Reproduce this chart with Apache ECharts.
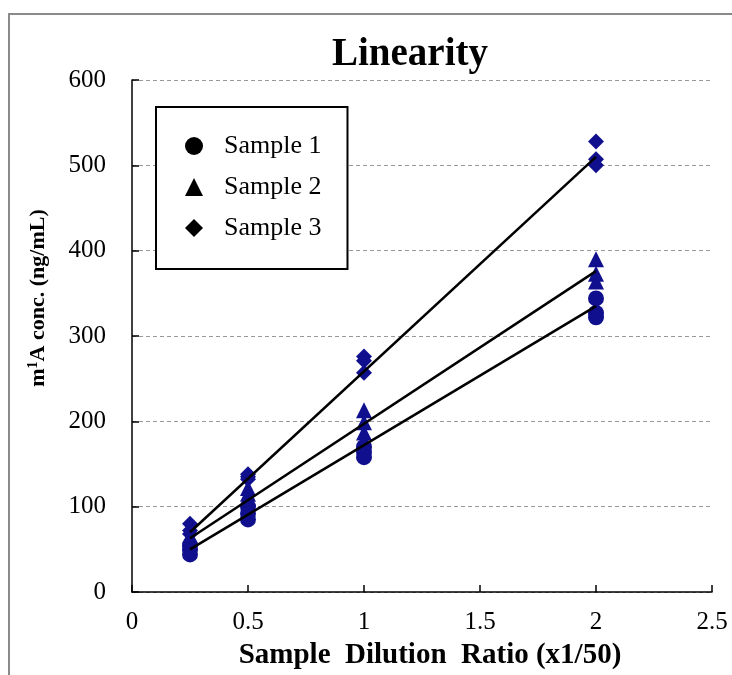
<!DOCTYPE html>
<html>
<head>
<meta charset="utf-8">
<script src="https://cdn.jsdelivr.net/npm/echarts@6/dist/echarts.min.js"></script>
<style>
html,body{margin:0;padding:0;background:#fff;}
#chart{width:732px;height:675px;}
</style>
</head>
<body>
<div id="chart"></div>
<script>
// x positions of each replicate (dilution ratio, x1/50)
var xReps = [0.25,0.25,0.25, 0.5,0.5,0.5, 1,1,1, 2,2,2];
var sample1 = [55,50,44, 100,92,85, 170,164,158, 344,327,322];
var sample2 = [66,62,58, 122,115,110, 213,199,187, 390,373,364];
var sample3 = [80,72,68, 138,135,132, 276,271,257, 528,507,500];
// trendline end points
var fitX = [0.25, 2];
var fit1 = [50, 335];
var fit2 = [63, 376];
var fit3 = [70, 510];
var names = ['Sample 1','Sample 2','Sample 3'];
var symbols = ['circle','triangle','diamond'];

function pairs(xs, ys){
	var out = [];
	for(var i=0;i<xs.length;i++){
		out.push([xs[i], ys[i]]);
	}
	return out;
}

var serif = '"Liberation Serif","DejaVu Serif",serif';
var dotColor = '#10108e';

var chart = echarts.init(document.getElementById('chart'));
var scatterData = [sample1, sample2, sample3];
var fitData = [fit1, fit2, fit3];
var series = [];
for(var i=0;i<3;i++){
	series.push({
		name: names[i],
		type: 'scatter',
		symbol: symbols[i],
		symbolSize: 16,
		itemStyle: {color: dotColor, opacity: 1},
		data: pairs(xReps, scatterData[i]),
		z: 2
	});
}
for(var j=0;j<3;j++){
	series.push({
		name: 'fit' + (j+1),
		type: 'line',
		showSymbol: false,
		symbol: 'none',
		lineStyle: {color: '#000', width: 2.5},
		data: pairs(fitX, fitData[j]),
		z: 3,
		silent: true
	});
}

option = {
	animation: false,
	backgroundColor: '#fff',
	title: {
		text: 'Linearity',
		left: 327,
		top: 30,
		textStyle: {fontFamily: serif, fontWeight: 'bold', fontSize: 39, color: '#000'}
	},
	legend: {
		orient: 'vertical',
		left: 156,
		top: 107,
		padding: [26, 26, 28, 29],
		itemGap: 15,
		itemWidth: 18,
		itemHeight: 18,
		borderColor: '#000',
		borderWidth: 2,
		backgroundColor: '#fff',
		textStyle: {fontFamily: serif, fontSize: 26, color: '#000', padding: [0,0,0,16]},
		data: [
			{name: names[0], icon: 'circle', itemStyle: {color: '#000'}},
			{name: names[1], icon: 'triangle', itemStyle: {color: '#000'}},
			{name: names[2], icon: 'diamond', itemStyle: {color: '#000'}}
		]
	},
	grid: {left: 132, right: 20, top: 80, height: 516, containLabel: false},
	xAxis: {
		type: 'value',
		min: 0, max: 2.5, interval: 0.5,
		name: 'Sample  Dilution  Ratio (x1/50)',
		nameLocation: 'middle',
		nameGap: 49,
		nameTextStyle: {fontFamily: serif, fontWeight: 'bold', fontSize: 29, color: '#000', padding: [0,0,0,16]},
		axisLine: {lineStyle: {color: '#000', width: 1.5}},
		axisTick: {inside: true, length: 7, lineStyle: {color: '#000', width: 1.5}},
		axisLabel: {fontFamily: serif, fontSize: 25, color: '#000', margin: 18},
		splitLine: {show: false}
	},
	yAxis: {
		type: 'value',
		min: 0, max: 600, interval: 100,
		axisLine: {show: true, lineStyle: {color: '#000', width: 1.5}},
		axisTick: {show: true, inside: true, length: 7, lineStyle: {color: '#000', width: 1.5}},
		axisLabel: {fontFamily: serif, fontSize: 25, color: '#000', margin: 26},
		splitLine: {show: true, lineStyle: {color: '#999', type: [4,3], width: 1}}
	},
	graphic: [
		{
			type: 'rect',
			shape: {x: 9, y: 14, width: 760, height: 720},
			style: {fill: 'none', stroke: '#8a8a8a', lineWidth: 2},
			z: 0
		},
		{
			type: 'text',
			x: 38, y: 298,
			rotation: Math.PI/2,
			style: {
				text: '{a|m}{s|1}{a|A conc. (ng/mL)}',
				align: 'center',
				verticalAlign: 'middle',
				rich: {
					a: {fontFamily: serif, fontWeight: 'bold', fontSize: 22, fill: '#000'},
					s: {fontFamily: serif, fontWeight: 'bold', fontSize: 14, fill: '#000', verticalAlign: 'top', padding: [0,0,9,0]}
				}
			}
		}
	],
	series: series
};
chart.setOption(option);
</script>
</body>
</html>
